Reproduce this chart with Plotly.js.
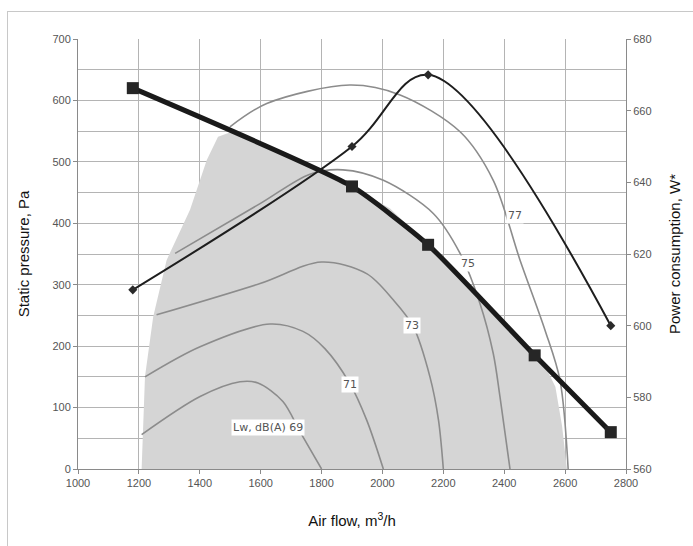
<!DOCTYPE html>
<html>
<head>
<meta charset="utf-8">
<script src="https://cdn.plot.ly/plotly-3.0.1.min.js"></script>
<style>
  html, body { margin: 0; padding: 0; background: #fff; }
  #frame { position: absolute; left: 7px; top: 11px; width: 700px; height: 560px;
           border-left: 1px solid #c8c8c8; border-top: 1px solid #c8c8c8; }
  #chart { position: absolute; left: 0; top: 0; width: 693px; height: 546px; }
</style>
</head>
<body>
<div id="frame"></div>
<div id="chart"></div>
<script>
// Fan curve (static pressure, Pa)
const fanAirflow = [1180, 1900, 2150, 2500, 2750];
const fanPressure = [620, 460, 365, 185, 60];

// Power consumption (W*, right axis)
const powerAirflow = [1180, 1900, 2150, 2750];
const powerW = [610, 650, 670, 600];

// Sound power contours Lw, dB(A)
const c69x = [1209, 1401, 1532, 1591, 1673, 1729, 1800];
const c69y = [56, 118, 142, 140, 110, 61, 0];
const c71x = [1220, 1401, 1631, 1739, 1811, 1893, 1948, 2003];
const c71y = [150, 199, 236, 224, 196, 139, 80, 0];
const c73x = [1258, 1598, 1800, 1948, 2036, 2101, 2156, 2184, 2200];
const c73y = [251, 302, 337, 318, 275, 232, 150, 80, 0];
const c75x = [1319, 1598, 1762, 1870, 2003, 2167, 2255, 2320, 2364, 2386, 2419];
const c75y = [351, 432, 480, 487, 470, 416, 351, 270, 188, 118, 0];
const c77x = [1499, 1620, 1893, 2058, 2255, 2364, 2452, 2534, 2583, 2610];
const c77y = [557, 595, 625, 609, 549, 470, 340, 226, 145, 0];

// Contour labels
const labelText = ["Lw, dB(A) 69", "71", "73", "75", "77"];
const labelX = [1624, 1893, 2097, 2281, 2435];
const labelY = [67, 137, 233, 335, 412];

// Working area (shaded)
const areaX = [1209, 1220, 1247, 1291, 1368, 1423, 1460, 1510, 1900, 2025, 2150, 2500, 2540, 2568, 2590, 2606, 1209];
const areaY = [0, 150, 248, 340, 422, 503, 541, 550, 460, 424, 365, 185, 162, 134, 70, 0, 0];

// Axis ticks
const xTicks = [1000, 1200, 1400, 1600, 1800, 2000, 2200, 2400, 2600, 2800];
const yTicks = [0, 100, 200, 300, 400, 500, 600, 700];
const y2Ticks = [560, 580, 600, 620, 640, 660, 680];

const contourStyle = {color: '#8c8c8c', width: 1.6, shape: 'spline', smoothing: 0.9};
function contour(x, y) {
  return {x: x, y: y, type: 'scatter', mode: 'lines', line: contourStyle, hoverinfo: 'skip', showlegend: false};
}

const traces = [
  {x: areaX, y: areaY, type: 'scatter', mode: 'lines', fill: 'toself',
   fillcolor: '#d5d5d5', line: {width: 0, color: 'rgba(0,0,0,0)'}, showlegend: false, hoverinfo: 'skip'},
  contour(c69x, c69y), contour(c71x, c71y), contour(c73x, c73y), contour(c75x, c75y), contour(c77x, c77y),
  {x: powerAirflow, y: powerW, yaxis: 'y2', type: 'scatter', mode: 'lines+markers',
   line: {color: '#1e1e1e', width: 2, shape: 'spline', smoothing: 1},
   marker: {symbol: 'diamond', size: 7, color: '#2a2a2a'}, showlegend: false},
  {x: fanAirflow, y: fanPressure, type: 'scatter', mode: 'lines+markers',
   line: {color: '#1a1a1a', width: 5, shape: 'spline', smoothing: 0.5},
   marker: {symbol: 'square', size: 12, color: '#262626'}, showlegend: false}
];

const annotations = labelText.map((t, i) => ({
  x: labelX[i], y: labelY[i], xref: 'x', yref: 'y', text: t, showarrow: false,
  bgcolor: '#ffffff', borderpad: 1,
  font: {family: 'DejaVu Sans, Verdana, sans-serif', size: 11, color: '#555'}
}));

const tickFont = {family: 'Liberation Sans, Arial, sans-serif', size: 11, color: '#555'};
const titleFont = {family: 'Liberation Sans, Arial, sans-serif', size: 15, color: '#111'};

const layout = {
  width: 693, height: 546,
  margin: {l: 78, r: 67, t: 39, b: 77},
  paper_bgcolor: 'rgba(0,0,0,0)', plot_bgcolor: '#ffffff',
  showlegend: false,
  xaxis: {
    range: [1000, 2800], tickvals: xTicks, ticktext: xTicks.map(String),
    showgrid: true, gridcolor: '#b4b4b4', gridwidth: 1, zeroline: false,
    showline: true, linecolor: '#8a8a8a', linewidth: 1,
    ticks: 'outside', ticklen: 4, tickcolor: '#8a8a8a',
    tickfont: tickFont,
    title: {text: 'Air flow, m<sup>3</sup>/h', font: titleFont, standoff: 27}
  },
  yaxis: {
    range: [0, 700], tickvals: yTicks, ticktext: yTicks.map(String),
    showgrid: true, gridcolor: '#b4b4b4', gridwidth: 1, zeroline: false,
    minor: {dtick: 50, showgrid: true, gridcolor: '#b4b4b4', gridwidth: 1, ticks: ''},
    showline: true, linecolor: '#8a8a8a', linewidth: 1,
    ticks: 'outside', ticklen: 4, tickcolor: '#8a8a8a',
    tickfont: tickFont,
    title: {text: 'Static pressure, Pa', font: titleFont, standoff: 19}
  },
  yaxis2: {
    range: [560, 680], tickvals: y2Ticks, ticktext: y2Ticks.map(String),
    overlaying: 'y', side: 'right', showgrid: false, zeroline: false,
    showline: true, linecolor: '#8a8a8a', linewidth: 1,
    ticks: 'outside', ticklen: 4, tickcolor: '#8a8a8a',
    tickfont: tickFont,
    title: {text: 'Power consumption, W*', font: titleFont, standoff: 18}
  },
  annotations: annotations
};

Plotly.newPlot('chart', traces, layout, {displayModeBar: false, staticPlot: true});
</script>
</body>
</html>
